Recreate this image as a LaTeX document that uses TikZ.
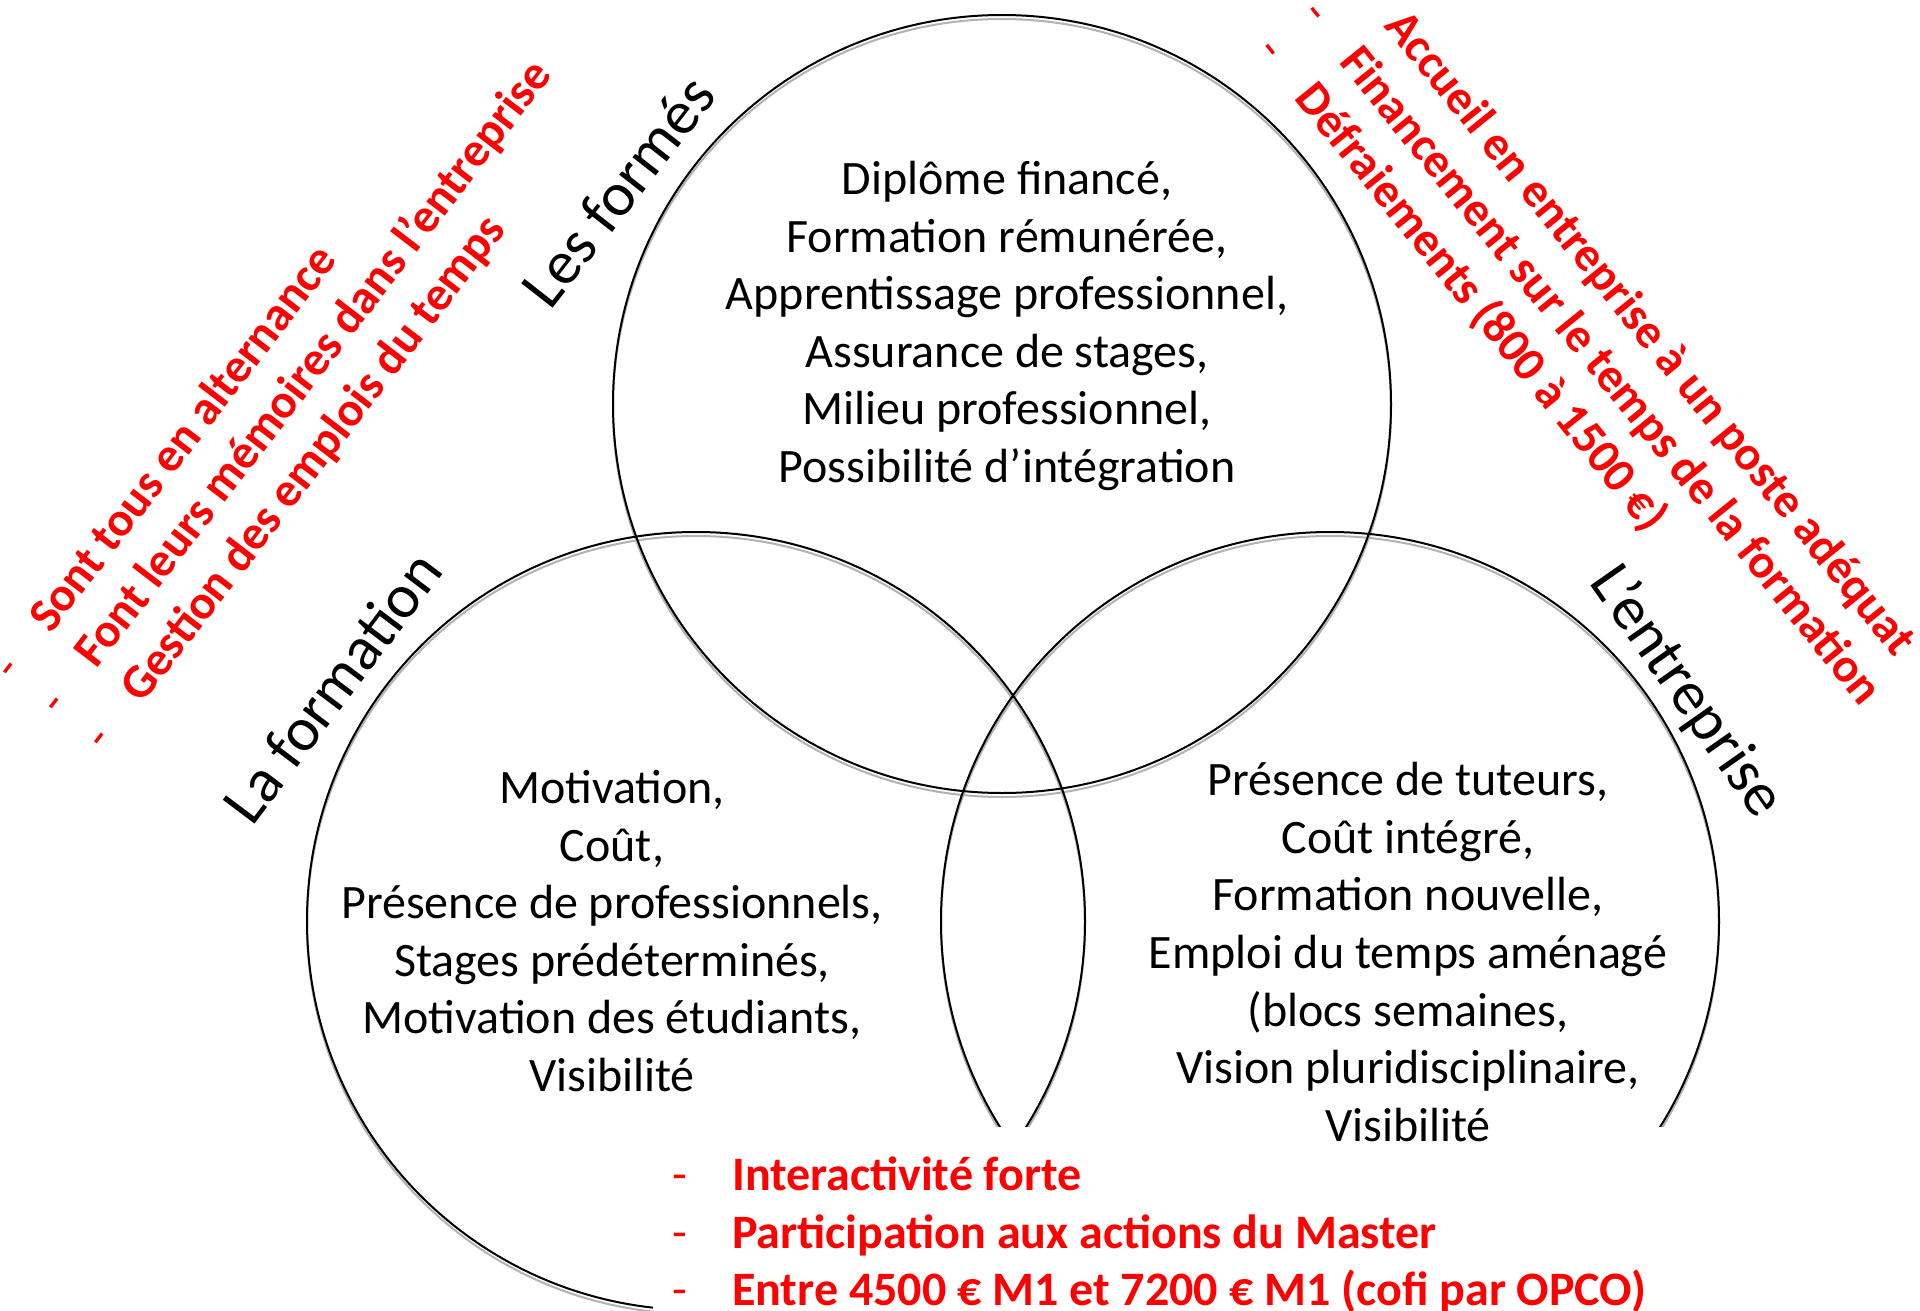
\documentclass[tikz,border=0pt]{standalone}
\usepackage{fontspec}
\setmainfont{Carlito}
\begin{document}
\begin{tikzpicture}[x=1pt,y=-1pt,
  vring/.style={circle, draw=black, line width=2pt, minimum size=778pt, inner sep=0pt},
  vshadow/.style={circle, draw=black!30, line width=2pt, minimum size=778pt, inner sep=0pt},
  bodytxt/.style={font=\fontsize{48}{57.6}\selectfont, align=center, inner sep=0pt},
  setlabel/.style={font=\fontsize{62}{70}\selectfont, inner sep=0pt},
  redtxt/.style={font=\fontsize{48}{57.6}\selectfont\bfseries, text=red, inner sep=0pt, anchor=base west},
  reddash/.style={font=\fontsize{48}{57.6}\selectfont, text=red, inner sep=0pt, anchor=base west}]
\useasboundingbox (0,0) rectangle (1920,1311);
\fill[white] (0,0) rectangle (1920,1311);
% shadows
\node[vshadow] (sT) at (1002,408) {};
\node[vshadow] (sL) at (696,925) {};
\node[vshadow] (sR) at (1330,925) {};
% circles
\node[vring] (formes) at (1002,404) {};
\node[vring] (formation) at (696,921) {};
\node[vring] (entreprise) at (1330,921) {};
% white text box covering bottom
\fill[white] (653,1127) rectangle (1760,1311);
% set labels
\node[setlabel, rotate=52] (lformes) at (618,191) {Les formés};
\node[setlabel, rotate=53] (lformation) at (332,687) {La formation};
\node[setlabel, rotate=-55] (lentreprise) at (1686,692) {L’entreprise};
% contents
\node[bodytxt] (tformes) at (1007,326) {Diplôme financé,\\Formation rémunérée,\\Apprentissage professionnel,\\Assurance de stages,\\Milieu professionnel,\\Possibilité d’intégration};
\node[bodytxt] (tformation) at (612,931) {Motivation,\\Coût,\\Présence de professionnels,\\Stages prédéterminés,\\Motivation des étudiants,\\Visibilité};
\node[bodytxt] (tentreprise) at (1408,952) {Présence de tuteurs,\\Coût intégré,\\Formation nouvelle,\\Emploi du temps aménagé\\(blocs semaines,\\Vision pluridisciplinaire,\\Visibilité};
% left red list
\begin{scope}[shift={(51,635)}, rotate=52.5]
  \node[reddash, rotate=52.5] (ld1) at (-60,0) {-};
  \node[redtxt, rotate=52.5] (l1) at (0,0) {Sont tous en alternance};
  \node[reddash, rotate=52.5] (ld2) at (-60,57.6) {-};
  \node[redtxt, rotate=52.5] (l2) at (0,57.6) {Font leurs mémoires dans l’entreprise};
  \node[reddash, rotate=52.5] (ld3) at (-60,115.2) {-};
  \node[redtxt, rotate=52.5] (l3) at (0,115.2) {Gestion des emplois du temps};
\end{scope}
% right red list
\begin{scope}[shift={(1383,26)}, rotate=-51]
  \node[reddash, rotate=-51] (rd1) at (-60,0) {-};
  \node[redtxt, rotate=-51] (r1) at (0,0) {Accueil en entreprise à un poste adéquat};
  \node[reddash, rotate=-51] (rd2) at (-60,57.6) {-};
  \node[redtxt, rotate=-51] (r2) at (0,57.6) {Financement sur le temps de la formation};
  \node[reddash, rotate=-51] (rd3) at (-60,115.2) {-};
  \node[redtxt, rotate=-51] (r3) at (0,115.2) {Défraiements (800 à 1500 €)};
\end{scope}
% bottom red list
\node[reddash] (bd1) at (672,1190) {-};
\node[redtxt] (b1) at (732,1190) {Interactivité forte};
\node[reddash] (bd2) at (672,1248) {-};
\node[redtxt] (b2) at (732,1248) {Participation aux actions du Master};
\node[reddash] (bd3) at (672,1305) {-};
\node[redtxt] (b3) at (732,1305) {Entre 4500 € M1 et 7200 € M1 (cofi par OPCO)};
\end{tikzpicture}
\end{document}
